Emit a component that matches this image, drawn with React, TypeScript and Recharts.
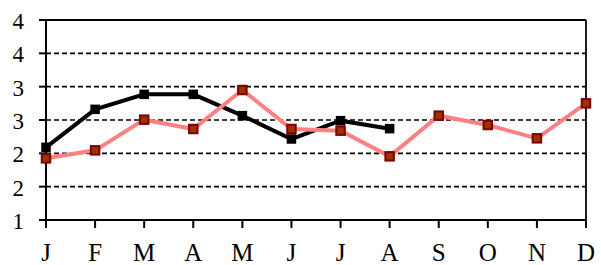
import React from 'react';
import {
  LineChart,
  Line,
  XAxis,
  YAxis,
  CartesianGrid,
  ReferenceLine
} from 'recharts';

const months = ['J', 'F', 'M', 'A', 'M', 'J', 'J', 'A', 'S', 'O', 'N', 'D'];
const seriesBlack = [2.09, 2.66, 2.885, 2.885, 2.565, 2.215, 2.49, 2.37, null, null, null, null];
const seriesRed = [1.925, 2.045, 2.505, 2.365, 2.95, 2.365, 2.34, 1.955, 2.565, 2.425, 2.225, 2.75];
const yTicks = [1, 1.5, 2, 2.5, 3, 3.5, 4];

const data = months.map((m, i) => ({
  key: `${m}${i}`,
  black: seriesBlack[i],
  red: seriesRed[i]
}));

const FONT = "'Liberation Serif', 'DejaVu Serif', serif";

const squareDot = (fill: string, stroke: string, size: number, sw: number) => (props: any) => {
  const { cx, cy, index, value } = props;
  if (value == null || cx == null || cy == null) return <g key={`d${index}`} />;
  return (
    <rect
      key={`d${index}`}
      x={cx - size / 2}
      y={cy - size / 2}
      width={size}
      height={size}
      fill={fill}
      stroke={stroke}
      strokeWidth={sw}
    />
  );
};

const XTick = (props: any) => {
  const { x, y, payload } = props;
  return (
    <text x={x} y={y + 31} textAnchor="middle" fill="#000" style={{ fontSize: '25px', fontFamily: FONT }}>
      {String(payload.value).charAt(0)}
    </text>
  );
};

const YTick = (props: any) => {
  const { y, payload } = props;
  return (
    <text x={24} y={y + 9} textAnchor="end" fill="#000" style={{ fontSize: '23px', fontFamily: FONT }}>
      {String(Math.round(payload.value))}
    </text>
  );
};

export default function App() {
  return (
    <div style={{ position: 'absolute', left: 0, top: 0, background: '#fff' }}>
      <LineChart width={601} height={265} data={data} margin={{ top: 20, right: 15, left: 0, bottom: 0 }}>
        <CartesianGrid vertical={false} stroke="#000" strokeDasharray="5 3" strokeWidth={1.6} />
        <ReferenceLine y={4} stroke="#000" strokeWidth={1.8} />
        <ReferenceLine x="D11" stroke="#000" strokeWidth={1.8} />
        <XAxis
          dataKey="key"
          interval={0}
          height={45}
          tickSize={8}
          stroke="#000"
          strokeWidth={2}
          tick={XTick}
        />
        <YAxis
          domain={[1, 4]}
          ticks={yTicks}
          interval={0}
          width={46}
          tickSize={7}
          stroke="#000"
          strokeWidth={2}
          tick={YTick}
        />
        <Line
          dataKey="black"
          stroke="#000"
          strokeWidth={4}
          dot={squareDot('#000', '#000', 8, 1.5)}
          isAnimationActive={false}
          connectNulls={false}
        />
        <Line
          dataKey="red"
          stroke="#FF8080"
          strokeWidth={4}
          dot={squareDot('#993300', '#800000', 8.5, 2)}
          isAnimationActive={false}
        />
      </LineChart>
    </div>
  );
}
